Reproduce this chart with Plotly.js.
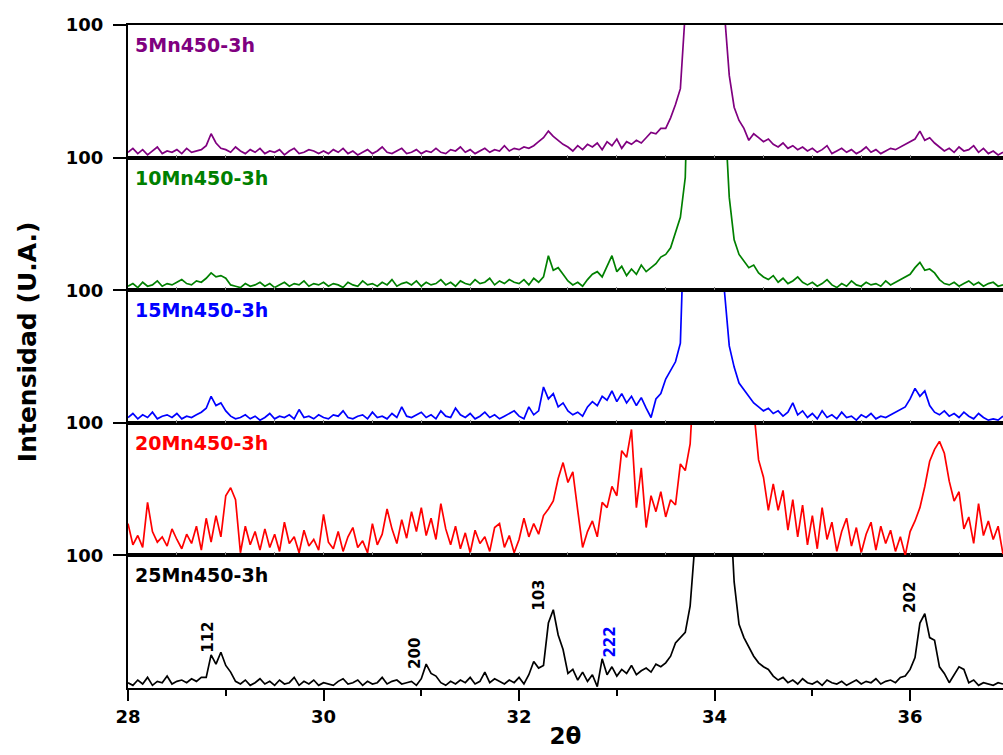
<!DOCTYPE html>
<html>
<head>
<meta charset="utf-8">
<script src="https://cdn.plot.ly/plotly-3.0.1.min.js"></script>
<style>html,body{margin:0;padding:0;background:#fff;}#chart{width:1003px;height:755px;}</style>
</head>
<body>
<div id="chart"></div>
<script>
// 2-theta positions (degrees)
const twoTheta = [
28,28.05,28.1,28.15,28.2,28.25,28.3,28.35,28.4,28.45,28.5,28.55,28.6,28.65,28.7,28.75,28.8,28.85,28.9,28.95,
29,29.05,29.1,29.15,29.2,29.25,29.3,29.35,29.4,29.45,29.5,29.55,29.6,29.65,29.7,29.75,29.8,29.85,29.9,29.95,
30,30.05,30.1,30.15,30.2,30.25,30.3,30.35,30.4,30.45,30.5,30.55,30.6,30.65,30.7,30.75,30.8,30.85,30.9,30.95,
31,31.05,31.1,31.15,31.2,31.25,31.3,31.35,31.4,31.45,31.5,31.55,31.6,31.65,31.7,31.75,31.8,31.85,31.9,31.95,
32,32.05,32.1,32.15,32.2,32.25,32.3,32.35,32.4,32.45,32.5,32.55,32.6,32.65,32.7,32.75,32.8,32.85,32.9,32.95,
33,33.05,33.1,33.15,33.2,33.25,33.3,33.35,33.4,33.45,33.5,33.55,33.6,33.65,33.7,33.75,33.8,33.85,33.9,33.95,
34,34.05,34.1,34.15,34.2,34.25,34.3,34.35,34.4,34.45,34.5,34.55,34.6,34.65,34.7,34.75,34.8,34.85,34.9,34.95,
35,35.05,35.1,35.15,35.2,35.25,35.3,35.35,35.4,35.45,35.5,35.55,35.6,35.65,35.7,35.75,35.8,35.85,35.9,35.95,
36,36.05,36.1,36.15,36.2,36.25,36.3,36.35,36.4,36.45,36.5,36.55,36.6,36.65,36.7,36.75,36.8,36.85,36.9,36.95
];

const sampleNames = ["5Mn450-3h","10Mn450-3h","15Mn450-3h","20Mn450-3h","25Mn450-3h"];
const sampleColors = ["#800080","#008000","#0000ff","#ff0000","#000000"];

const int5Mn = [
4,7,3,6,2,5,8,3,5,4,6,3,7,4,5,6,9,18,11,7,
6,4,8,5,3,6,4,7,3,5,4,6,2,5,7,3,4,6,5,3,
5,3,6,4,7,3,5,2,4,6,3,5,8,4,3,5,7,3,4,6,
3,5,4,7,4,3,6,5,8,4,6,3,5,7,4,6,5,9,5,7,
6,8,7,9,12,15,20,16,13,10,8,5,9,6,10,8,11,6,12,9,
14,7,12,10,13,11,15,19,18,22,22,30,40,52,110,300,450,600,650,600,
500,250,110,62,38,28,22,13,18,15,12,14,10,8,11,7,9,6,8,5,
7,4,6,9,3,5,7,4,6,3,5,8,4,6,3,5,7,6,8,10,
12,14,20,13,15,11,8,5,7,4,8,5,6,9,4,7,3,5,2,4
];
const int10Mn = [
3,5,2,6,3,4,7,3,5,4,6,8,5,4,7,6,9,13,10,11,
9,4,3,2,5,3,4,6,3,5,2,4,6,3,5,4,7,3,5,4,
6,3,5,4,2,6,4,3,7,4,5,3,6,4,8,3,5,6,4,7,
3,6,4,5,8,4,6,3,7,5,4,8,5,6,9,4,7,5,8,6,
5,8,4,9,6,10,26,15,17,12,7,4,6,3,8,12,14,10,18,26,
14,18,11,16,12,19,14,17,20,25,27,32,44,55,85,160,400,600,650,620,
550,350,140,70,38,27,22,17,19,13,10,8,11,6,9,5,7,10,6,4,
6,3,5,8,4,2,5,3,7,4,3,6,4,5,3,7,4,6,8,10,
12,17,21,15,16,13,8,5,4,6,3,5,7,4,6,3,5,6,3,4
];
const int15Mn = [
4,7,3,6,4,8,3,5,6,4,7,3,5,4,6,8,11,20,13,15,
9,5,3,4,6,3,5,2,4,7,3,5,4,6,3,10,4,5,3,6,
4,3,6,5,9,4,3,5,6,3,8,4,5,3,7,4,12,5,4,6,
8,4,6,3,9,5,4,11,6,4,7,3,5,8,4,6,3,5,7,9,
5,3,12,6,9,27,18,22,12,15,9,6,8,5,12,16,13,20,17,24,
16,22,15,20,13,19,11,4,18,22,33,40,46,60,120,300,500,600,650,600,
500,250,100,58,42,30,25,20,15,12,9,11,7,9,5,8,15,6,9,4,
7,3,9,4,6,3,8,4,5,2,6,4,7,3,5,4,6,8,10,12,
18,26,20,24,13,8,6,9,5,7,4,8,5,3,7,4,2,3,2,5
];
const int20Mn = [
24,8,15,6,40,18,10,14,7,20,12,5,16,9,22,4,28,10,30,14,
45,51,42,2,22,8,18,4,20,6,16,3,25,9,14,2,19,7,12,4,
31,10,5,18,3,14,21,6,11,2,24,8,16,35,20,9,27,13,33,18,
36,15,28,12,39,20,8,22,5,17,2,19,9,14,3,21,24,6,15,2,
12,28,14,24,16,30,35,41,58,70,55,63,34,6,18,26,14,40,36,52,
45,79,74,95,36,66,21,45,33,48,29,42,38,69,64,84,150,300,500,600,
650,650,600,550,450,350,250,180,110,72,59,34,54,34,49,19,42,14,38,8,
30,5,36,12,25,3,18,28,7,21,2,16,25,4,22,9,19,3,14,0,
18,26,36,52,71,80,86,77,56,41,48,20,29,9,39,15,26,12,22,1
];
const int25Mn = [
4,2,6,3,8,2,5,4,9,3,5,6,4,7,5,8,8,25,18,27,
17,12,5,3,6,2,4,7,3,5,2,6,3,4,8,2,5,3,6,2,
4,3,2,5,7,3,4,6,2,5,3,4,8,3,5,6,3,4,5,2,
7,18,11,9,4,2,5,3,6,4,8,3,5,12,4,7,5,3,6,4,
8,3,10,20,15,17,49,59,40,29,11,14,6,12,5,10,1,22,10,16,
9,14,11,17,10,13,15,12,18,16,19,24,34,38,42,62,110,400,600,650,
650,600,400,150,80,48,38,31,24,19,16,14,9,6,8,4,6,3,7,4,
3,5,2,6,4,3,5,2,4,6,3,5,4,7,3,5,6,4,8,9,
14,23,49,56,38,36,16,11,4,10,16,14,4,6,2,4,3,2,4,3
];

// Miller index labels on the 25Mn pattern
const hklLabels = ["112","200","103","222","202"];
const hklX = [28.81, 30.93, 32.21, 32.93, 36.0];
const hklY = [38, 26, 70, 35, 68];
const hklColors = ["#000000","#000000","#000000","#0000ff","#000000"];

const yTickVals = [100];
const yTickText = ["100"];
const xRange = [28, 36.95];

const FONT = "DejaVu Sans";
const series = [int5Mn, int10Mn, int15Mn, int20Mn, int25Mn];
// panel i (0 = top) -> x axis / y axis ids
const xIds = ["x5","x4","x3","x2","x"];
const yIds = ["y","y2","y3","y4","y5"];

const traces = series.map((s, i) => ({
  type: "scatter", mode: "lines",
  x: twoTheta, y: s,
  xaxis: xIds[i], yaxis: yIds[i],
  line: {color: sampleColors[i], width: 1.7},
  hoverinfo: "skip"
}));

const layout = {
  width: 1003, height: 755,
  margin: {l: 128, r: 0, t: 25, b: 67},
  paper_bgcolor: "#ffffff", plot_bgcolor: "#ffffff",
  showlegend: false,
  font: {family: FONT, color: "#000"},
  annotations: []
};

const panelDomains = [[0.8,1],[0.6,0.8],[0.4,0.6],[0.2,0.4],[0,0.2]];

for (let i = 0; i < 5; i++) {
  const yName = "yaxis" + (i === 0 ? "" : (i + 1));
  layout[yName] = {
    domain: panelDomains[i], range: [0, 100], anchor: xIds[i],
    tickvals: yTickVals, ticktext: yTickText,
    ticks: "outside", ticklen: 13, tickwidth: 2, tickcolor: "#000",
    ticklabelstandoff: 6,
    showline: true, linewidth: 2, linecolor: "#000",
    showgrid: false, zeroline: false, fixedrange: true,
    tickfont: {family: FONT, size: 18, weight: "bold", color: "#000"}
  };
  const xName = "xaxis" + (xIds[i] === "x" ? "" : xIds[i].slice(1));
  if (xIds[i] === "x") {
    layout[xName] = {
      range: xRange, anchor: yIds[i],
      showline: true, linewidth: 2, linecolor: "#000", mirror: true,
      ticks: "outside", tick0: 28, dtick: 2, ticklen: 11, tickwidth: 2, tickcolor: "#000",
      minor: {ticks: "outside", dtick: 1, tick0: 28, ticklen: 6, tickwidth: 2, tickcolor: "#000", showgrid: false},
      showgrid: false, zeroline: false, fixedrange: true,
      tickfont: {family: FONT, size: 18, weight: "bold", color: "#000"},
      title: {text: "2θ", font: {family: FONT, size: 23, weight: "bold", color: "#000"}, standoff: 2}
    };
  } else {
    layout[xName] = {
      range: xRange, anchor: yIds[i], matches: "x",
      showline: true, linewidth: 2, linecolor: "#000", mirror: true,
      ticks: "inside", tick0: 28, dtick: 0.5, ticklen: 3, tickwidth: 1, tickcolor: "#888",
      showticklabels: false, showgrid: false, zeroline: false, fixedrange: true
    };
  }
  layout.annotations.push({
    text: sampleNames[i], xref: "paper", x: 0.006, xanchor: "left",
    yref: yIds[i] + " domain", y: 1, yanchor: "middle", yshift: -20,
    showarrow: false,
    font: {family: FONT, size: 19, weight: "bold", color: sampleColors[i]}
  });
}

hklLabels.forEach((t, k) => {
  layout.annotations.push({
    text: t, x: hklX[k], y: hklY[k], xref: "x", yref: "y5",
    textangle: -90, showarrow: false, xanchor: "center", yanchor: "middle",
    font: {family: FONT, size: 15, weight: "bold", color: hklColors[k]}
  });
});

layout.annotations.push({
  text: "Intensidad (U.A.)", xref: "paper", yref: "paper",
  x: -0.114, y: 0.522, xanchor: "center", yanchor: "middle",
  textangle: -90, showarrow: false,
  font: {family: FONT, size: 25, weight: "bold", color: "#000"}
});

Plotly.newPlot("chart", traces, layout, {displayModeBar: false, staticPlot: true});
</script>
</body>
</html>
